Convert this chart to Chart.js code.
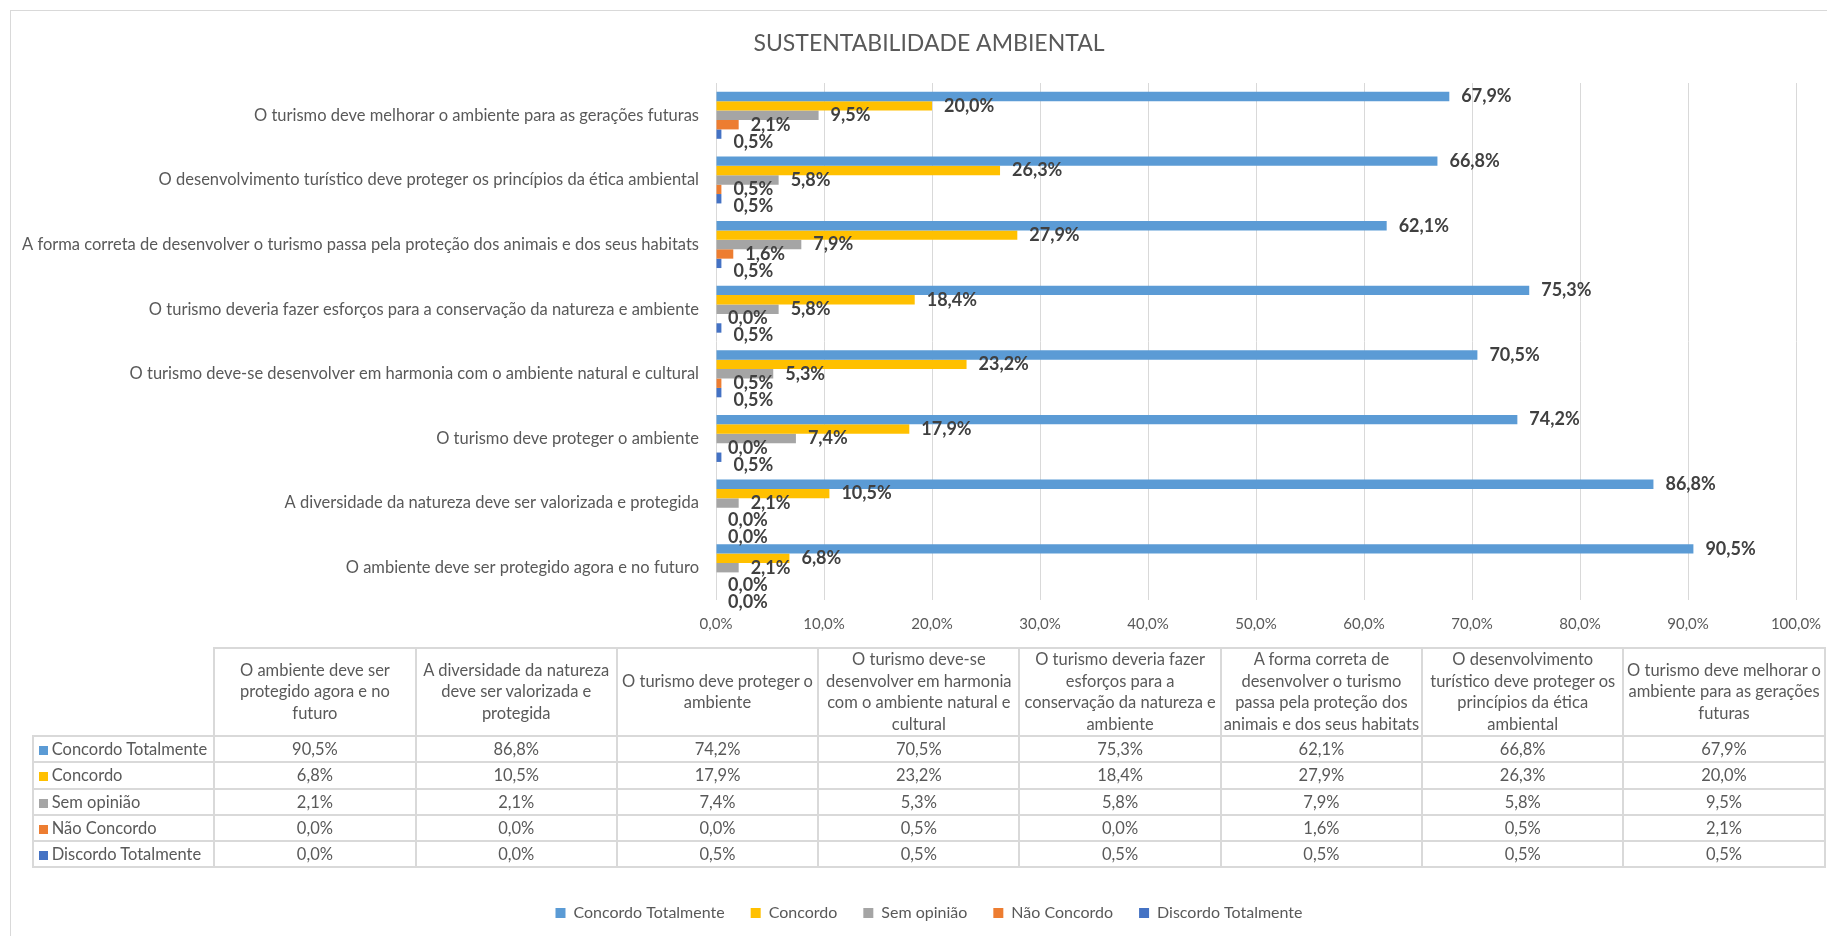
<!DOCTYPE html>
<html>
<head>
<meta charset="utf-8">
<script src="https://cdn.jsdelivr.net/npm/chart.js@4.4.1/dist/chart.umd.min.js"></script>
<style>
html,body{margin:0;padding:0;background:#fff;overflow:hidden;width:1827px;height:936px;}
#frame{position:absolute;left:10px;top:10px;width:1900px;height:1000px;border-left:1px solid #d9d9d9;border-top:1px solid #d9d9d9;box-sizing:border-box;}
#wrap{position:absolute;left:10px;top:10px;width:1816px;height:926px;}
canvas{display:block;}
#tbl{position:absolute;left:31.7px;top:647px;width:1792px;border-collapse:collapse;table-layout:fixed;font-family:Lato,sans-serif;font-size:16.5px;color:#595959;z-index:2;}
#tbl td{border:2px solid #d9d9d9;text-align:center;padding:0 1px;line-height:21.5px;overflow:hidden;}
#tbl tr.row td{height:24.3px;line-height:20px;}
#tbl td.blank{border-top:none;border-left:none;}
#tbl td.rh{text-align:left;padding-left:5px;white-space:nowrap;}
#tbl .mk{display:inline-block;width:9px;height:9px;margin-right:4px;vertical-align:0px;}
</style>
</head>
<body>
<div id="frame"></div>
<div id="wrap"><canvas id="c" width="1816" height="926"></canvas></div>
<table id="tbl"></table>
<script>
const chartTitle = 'SUSTENTABILIDADE AMBIENTAL';
const categories = [
  'O ambiente deve ser protegido agora e no futuro',
  'A diversidade da natureza deve ser valorizada e protegida',
  'O turismo deve proteger o ambiente',
  'O turismo deve-se desenvolver em harmonia com o ambiente natural e cultural',
  'O turismo deveria fazer esforços para a conservação da natureza e ambiente',
  'A forma correta de desenvolver o turismo passa pela proteção dos animais e dos seus habitats',
  'O desenvolvimento turístico deve proteger os princípios da ética ambiental',
  'O turismo deve melhorar o ambiente para as gerações futuras'
];
const seriesNames = ['Concordo Totalmente', 'Concordo', 'Sem opinião', 'Não Concordo', 'Discordo Totalmente'];
const seriesColors = ['#5B9BD5', '#FFC000', '#A5A5A5', '#ED7D31', '#4472C4'];
const concordoTotalmente = [90.5, 86.8, 74.2, 70.5, 75.3, 62.1, 66.8, 67.9];
const concordo = [6.8, 10.5, 17.9, 23.2, 18.4, 27.9, 26.3, 20.0];
const semOpiniao = [2.1, 2.1, 7.4, 5.3, 5.8, 7.9, 5.8, 9.5];
const naoConcordo = [0.0, 0.0, 0.0, 0.5, 0.0, 1.6, 0.5, 2.1];
const discordoTotalmente = [0.0, 0.0, 0.5, 0.5, 0.5, 0.5, 0.5, 0.5];
const xTickLabels = ['0,0%','10,0%','20,0%','30,0%','40,0%','50,0%','60,0%','70,0%','80,0%','90,0%','100,0%'];

const seriesValues = [concordoTotalmente, concordo, semOpiniao, naoConcordo, discordoTotalmente];
const fmt = v => v.toFixed(1).replace('.', ',') + '%';

// Build data table (HTML)
(function buildTable(){
  const t = document.getElementById('tbl');
  let html = '<colgroup><col style="width:181.6px">';
  categories.forEach(() => html += '<col style="width:201.3px">');
  html += '</colgroup><tr><td class="blank"></td>';
  categories.forEach(c => html += '<td>' + c + '</td>');
  html += '</tr>';
  seriesNames.forEach((s, k) => {
    html += '<tr class="row"><td class="rh"><span class="mk" style="background:' + seriesColors[k] + '"></span>' + s + '</td>';
    seriesValues[k].forEach(v => html += '<td>' + fmt(v) + '</td>');
    html += '</tr>';
  });
  t.innerHTML = html;
})();

Chart.defaults.font.family = 'Lato';
Chart.defaults.color = '#595959';

const valueLabels = {
  id: 'valueLabels',
  afterDatasetsDraw(chart) {
    const ctx = chart.ctx;
    ctx.save();
    ctx.font = 'bold 18px Lato';
    ctx.fillStyle = '#404040';
    ctx.textBaseline = 'middle';
    ctx.textAlign = 'left';
    const n = chart.data.labels.length;
    for (let i = 0; i < n; i++) {
      let prev = null;
      chart.data.datasets.forEach((ds, d) => {
        const bar = chart.getDatasetMeta(d).data[i];
        const txt = fmt(ds.data[i]);
        const x = bar.x + 12;
        let y = bar.y;
        const w = ctx.measureText(txt).width;
        if (prev && x < prev.x + prev.w && prev.x < x + w && y - prev.y < 17) y = prev.y + 17;
        ctx.fillText(txt, x, y);
        prev = {x, y, w};
      });
    }
    ctx.restore();
  }
};

// let the category axis labels use the whole left margin (avoid clipping)
const widenY = {
  id: 'widenY',
  afterLayout(chart) {
    const y = chart.scales.y;
    y.left = 0;
    y.width = y.right;
  }
};

const chartLabels = categories.slice().reverse();
const datasets = seriesNames.map((name, k) => ({
  label: name,
  data: seriesValues[k].slice().reverse(),
  backgroundColor: seriesColors[k],
  borderWidth: 0,
  categoryPercentage: 0.727,
  barPercentage: 1.0
}));

new Chart(document.getElementById('c'), {
  type: 'bar',
  data: { labels: chartLabels, datasets },
  plugins: [valueLabels, widenY],
  options: {
    indexAxis: 'y',
    responsive: false,
    animation: false,
    devicePixelRatio: 1,
    layout: { padding: { left: 52, right: 30, top: 0, bottom: 5 } },
    plugins: {
      title: {
        display: true,
        text: chartTitle,
        color: '#595959',
        font: { size: 23, weight: 'normal', lineHeight: 1.2 },
        padding: { top: 20.2, bottom: 25.2 }
      },
      legend: {
        position: 'bottom',
        labels: { boxWidth: 10, boxHeight: 10, padding: 26, color: '#595959', font: { size: 16 } }
      },
      tooltip: { enabled: false }
    },
    scales: {
      x: {
        min: 0, max: 100,
        ticks: { stepSize: 10, padding: 15, color: '#595959', font: { size: 15 },
                 callback: (v, i) => xTickLabels[i] },
        grid: { color: '#d9d9d9', lineWidth: 1, drawTicks: false },
        border: { display: false },
        afterFit: s => { s.height = 279; s.paddingRight = 0; s.paddingLeft = 0; }
      },
      y: {
        ticks: { padding: 17, color: '#595959', font: { size: 16.5 } },
        grid: { display: false, drawTicks: false },
        border: { display: false },
        afterFit: s => { s.width = 654; }
      }
    }
  }
});
</script>
</body>
</html>
